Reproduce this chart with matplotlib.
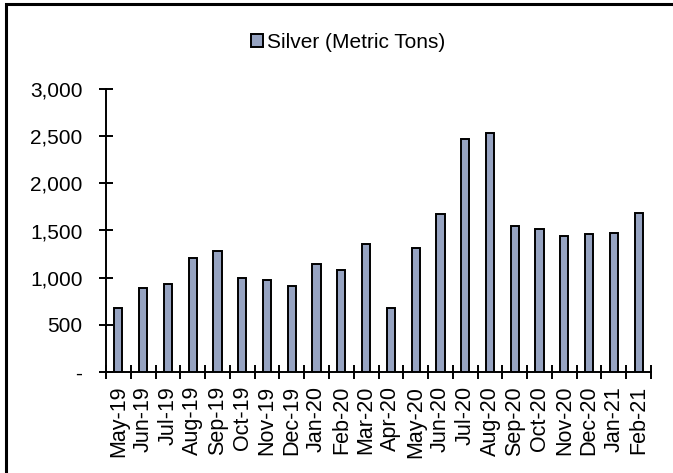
import matplotlib
matplotlib.use("Agg")
import matplotlib.pyplot as plt
from matplotlib.patches import Rectangle
from matplotlib.ticker import FuncFormatter

plt.rcParams['font.family'] = ['Liberation Sans', 'DejaVu Sans']

months = ["May-19", "Jun-19", "Jul-19", "Aug-19", "Sep-19", "Oct-19", "Nov-19",
          "Dec-19", "Jan-20", "Feb-20", "Mar-20", "Apr-20", "May-20", "Jun-20",
          "Jul-20", "Aug-20", "Sep-20", "Oct-20", "Nov-20", "Dec-20", "Jan-21",
          "Feb-21"]
silver = [678, 886, 929, 1204, 1286, 993, 971, 908, 1141, 1077, 1353, 678,
          1311, 1671, 2473, 2537, 1544, 1519, 1438, 1459, 1477, 1689]
series_name = "Silver (Metric Tons)"
y_ticks = [0, 500, 1000, 1500, 2000, 2500, 3000]

W, H = 673, 473
fig = plt.figure(figsize=(W / 100, H / 100), dpi=100)
ax = fig.add_axes([106 / W, 1 - 372 / H, (651 - 106) / W, (372 - 89) / H])

x = list(range(len(months)))
ax.bar(x, silver, width=0.33, color="#96A3C1", edgecolor="black",
       linewidth=1.4, label=series_name, zorder=3)

ax.set_xlim(-0.5, len(months) - 0.5)
ax.set_ylim(0, 3000)
ax.set_yticks(y_ticks)
ax.yaxis.set_major_formatter(FuncFormatter(lambda v, p: "-" if v == 0 else f"{v:,.0f}"))

# tick marks sit on the category boundaries, labels at the centres
ax.set_xticks([i - 0.5 for i in range(len(months) + 1)])
ax.set_xticklabels([])
ax.set_xticks(x, minor=True)
ax.set_xticklabels(months, minor=True, rotation=90)
ax.tick_params(axis="x", which="major", direction="inout", length=10, width=1.4)
ax.tick_params(axis="x", which="minor", length=0, pad=10, labelsize=15.5)
ax.tick_params(axis="y", direction="inout", length=10, width=1.4, pad=12,
               labelsize=15)

for s in ("top", "right"):
    ax.spines[s].set_visible(False)
for s in ("left", "bottom"):
    ax.spines[s].set_linewidth(1.4)

fig.legend(loc="center", bbox_to_anchor=(348 / W, 1 - 42 / H), frameon=False,
           fontsize=15, handlelength=0.6, handleheight=0.6, handletextpad=0.2)

# outer chart frame
fig.patches.append(Rectangle((6 / W, -0.02), 1.0, 1 - 4 / H + 0.02,
                             transform=fig.transFigure, fill=False,
                             edgecolor="black", linewidth=2.2))

fig.savefig("out.png", dpi=100)
